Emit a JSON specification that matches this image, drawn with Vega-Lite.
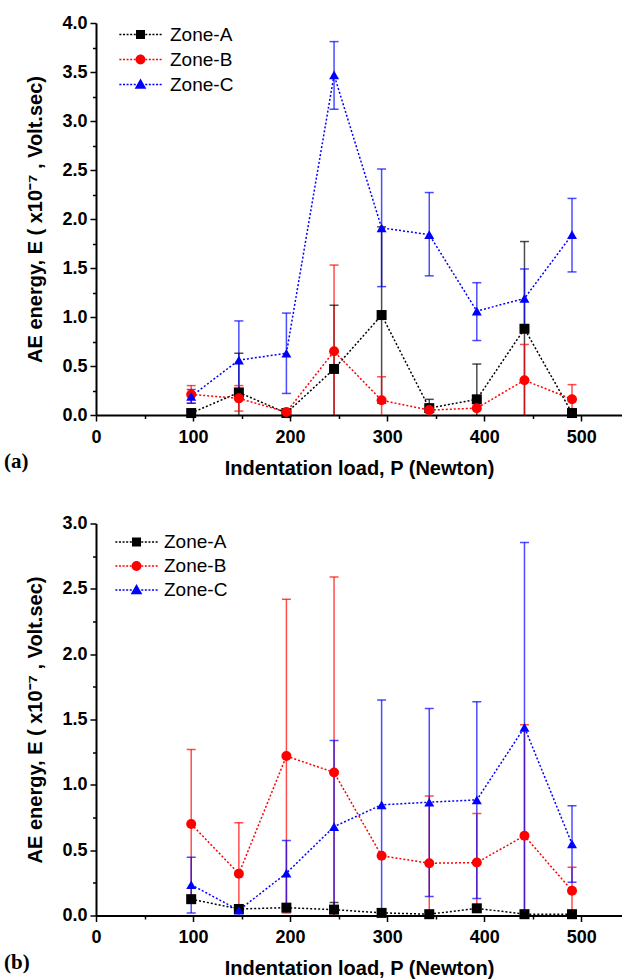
{
  "$schema": "https://vega.github.io/schema/vega-lite/v6.json",
  "padding": {"left": 3, "top": 14, "right": 0, "bottom": 0},
  "spacing": 36.5,
  "config": {
    "view": {"stroke": null},
    "font": "Liberation Sans",
    "axis": {"domainColor": "black", "domainWidth": 2, "tickColor": "black", "tickWidth": 1.5, "labelFont": "Liberation Sans", "labelFontWeight": "bold", "labelFontSize": 18, "labelColor": "black", "titleFont": "Liberation Sans", "titleFontWeight": "bold", "titleFontSize": 20, "titleColor": "black", "grid": false, "labelOverlap": false, "labelFlush": false}
  },
  "datasets": {
    "pts": [
      {"panel": "a", "zone": "Zone-A", "load": 98.1, "E": 0.02},
      {"panel": "a", "zone": "Zone-A", "load": 147.2, "E": 0.23, "lo": -0.17, "hi": 0.63},
      {"panel": "a", "zone": "Zone-A", "load": 196.2, "E": 0.02},
      {"panel": "a", "zone": "Zone-A", "load": 245.3, "E": 0.47, "lo": -0.18, "hi": 1.12},
      {"panel": "a", "zone": "Zone-A", "load": 294.3, "E": 1.02, "lo": 0.12, "hi": 1.92},
      {"panel": "a", "zone": "Zone-A", "load": 343.4, "E": 0.07, "lo": -0.02, "hi": 0.16},
      {"panel": "a", "zone": "Zone-A", "load": 392.4, "E": 0.16, "lo": -0.2, "hi": 0.52},
      {"panel": "a", "zone": "Zone-A", "load": 441.5, "E": 0.88, "lo": -0.01, "hi": 1.77},
      {"panel": "a", "zone": "Zone-A", "load": 490.5, "E": 0.02},
      {"panel": "a", "zone": "Zone-B", "load": 98.1, "E": 0.21, "lo": 0.12, "hi": 0.3},
      {"panel": "a", "zone": "Zone-B", "load": 147.2, "E": 0.17, "lo": 0.04, "hi": 0.3},
      {"panel": "a", "zone": "Zone-B", "load": 196.2, "E": 0.03},
      {"panel": "a", "zone": "Zone-B", "load": 245.3, "E": 0.65, "lo": -0.23, "hi": 1.53},
      {"panel": "a", "zone": "Zone-B", "load": 294.3, "E": 0.15, "lo": -0.09, "hi": 0.39},
      {"panel": "a", "zone": "Zone-B", "load": 343.4, "E": 0.05},
      {"panel": "a", "zone": "Zone-B", "load": 392.4, "E": 0.07},
      {"panel": "a", "zone": "Zone-B", "load": 441.5, "E": 0.355, "lo": -0.01, "hi": 0.72},
      {"panel": "a", "zone": "Zone-B", "load": 490.5, "E": 0.16, "lo": 0.01, "hi": 0.31},
      {"panel": "a", "zone": "Zone-C", "load": 98.1, "E": 0.19, "lo": 0.12, "hi": 0.26},
      {"panel": "a", "zone": "Zone-C", "load": 147.2, "E": 0.56, "lo": 0.16, "hi": 0.96},
      {"panel": "a", "zone": "Zone-C", "load": 196.2, "E": 0.63, "lo": 0.22, "hi": 1.04},
      {"panel": "a", "zone": "Zone-C", "load": 245.3, "E": 3.47, "lo": 3.12, "hi": 3.81},
      {"panel": "a", "zone": "Zone-C", "load": 294.3, "E": 1.91, "lo": 1.31, "hi": 2.51},
      {"panel": "a", "zone": "Zone-C", "load": 343.4, "E": 1.84, "lo": 1.42, "hi": 2.27},
      {"panel": "a", "zone": "Zone-C", "load": 392.4, "E": 1.06, "lo": 0.76, "hi": 1.35},
      {"panel": "a", "zone": "Zone-C", "load": 441.5, "E": 1.19, "lo": 0.89, "hi": 1.49},
      {"panel": "a", "zone": "Zone-C", "load": 490.5, "E": 1.84, "lo": 1.46, "hi": 2.21},
      {"panel": "b", "zone": "Zone-A", "load": 98.1, "E": 0.125, "lo": 0.1, "hi": 0.15},
      {"panel": "b", "zone": "Zone-A", "load": 147.2, "E": 0.05},
      {"panel": "b", "zone": "Zone-A", "load": 196.2, "E": 0.06},
      {"panel": "b", "zone": "Zone-A", "load": 245.3, "E": 0.045, "lo": -0.02, "hi": 0.1},
      {"panel": "b", "zone": "Zone-A", "load": 294.3, "E": 0.02},
      {"panel": "b", "zone": "Zone-A", "load": 343.4, "E": 0.01},
      {"panel": "b", "zone": "Zone-A", "load": 392.4, "E": 0.055},
      {"panel": "b", "zone": "Zone-A", "load": 441.5, "E": 0.01},
      {"panel": "b", "zone": "Zone-A", "load": 490.5, "E": 0.01},
      {"panel": "b", "zone": "Zone-B", "load": 98.1, "E": 0.7, "lo": 0.13, "hi": 1.27},
      {"panel": "b", "zone": "Zone-B", "load": 147.2, "E": 0.32, "lo": -0.08, "hi": 0.71},
      {"panel": "b", "zone": "Zone-B", "load": 196.2, "E": 1.22, "lo": 0.02, "hi": 2.42},
      {"panel": "b", "zone": "Zone-B", "load": 245.3, "E": 1.095, "lo": -0.4, "hi": 2.59},
      {"panel": "b", "zone": "Zone-B", "load": 294.3, "E": 0.457},
      {"panel": "b", "zone": "Zone-B", "load": 343.4, "E": 0.4, "lo": -0.12, "hi": 0.915},
      {"panel": "b", "zone": "Zone-B", "load": 392.4, "E": 0.405, "lo": 0.03, "hi": 0.78},
      {"panel": "b", "zone": "Zone-B", "load": 441.5, "E": 0.61, "lo": -0.24, "hi": 1.46},
      {"panel": "b", "zone": "Zone-B", "load": 490.5, "E": 0.19, "lo": 0.01, "hi": 0.37},
      {"panel": "b", "zone": "Zone-C", "load": 98.1, "E": 0.235, "lo": 0.02, "hi": 0.445},
      {"panel": "b", "zone": "Zone-C", "load": 147.2, "E": 0.04},
      {"panel": "b", "zone": "Zone-C", "load": 196.2, "E": 0.324, "lo": 0.07, "hi": 0.574},
      {"panel": "b", "zone": "Zone-C", "load": 245.3, "E": 0.68, "lo": 0.02, "hi": 1.34},
      {"panel": "b", "zone": "Zone-C", "load": 294.3, "E": 0.847, "lo": 0.05, "hi": 1.65},
      {"panel": "b", "zone": "Zone-C", "load": 343.4, "E": 0.867, "lo": 0.145, "hi": 1.585},
      {"panel": "b", "zone": "Zone-C", "load": 392.4, "E": 0.885, "lo": 0.13, "hi": 1.635},
      {"panel": "b", "zone": "Zone-C", "load": 441.5, "E": 1.44, "lo": 0.02, "hi": 2.855},
      {"panel": "b", "zone": "Zone-C", "load": 490.5, "E": 0.548, "lo": 0.255, "hi": 0.84}
    ]
  },
  "resolve": {"scale": {"x": "independent", "y": "independent", "color": "independent", "stroke": "independent", "fill": "independent", "shape": "independent"}, "legend": {"color": "independent"}},
  "vconcat": [
    {
      "width": 526, "height": 392,
      "data": {"name": "pts"},
      "transform": [{"filter": "datum.panel === 'a'"}],
      "title": {"text": "(a)", "orient": "bottom", "anchor": "start", "frame": "bounds", "font": "Liberation Serif", "fontSize": 21, "fontWeight": "bold", "color": "black", "offset": 0, "dx": -22, "dy": -27},
      "encoding": {
        "x": {"field": "load", "type": "quantitative", "scale": {"domain": [0, 542], "nice": false}, "axis": {"title": "Indentation load, P (Newton)", "values": [0, 50, 100, 150, 200, 250, 300, 350, 400, 450, 500], "labelExpr": "datum.value % 100 === 0 ? datum.label : ''", "tickSize": {"condition": {"test": "datum.value % 100 === 0", "value": 6}, "value": 3.5}, "labelPadding": 7, "titlePadding": 12}}
      },
      "layer": [
        {
          "transform": [{"filter": "isValid(datum.lo)"}],
          "mark": {"type": "rule", "strokeWidth": 1.5, "opacity": 0.7, "clip": true},
          "encoding": {
            "y": {"field": "lo", "type": "quantitative", "scale": {"domain": [0, 4], "nice": false}, "axis": {"title": "AE energy, E ( x10⁻⁷ , Volt.sec)", "values": [0, 0.25, 0.5, 0.75, 1, 1.25, 1.5, 1.75, 2, 2.25, 2.5, 2.75, 3, 3.25, 3.5, 3.75, 4], "labelExpr": "datum.value % 0.5 === 0 ? format(datum.value, '.1f') : ''", "tickSize": {"condition": {"test": "datum.value % 0.5 === 0", "value": 6}, "value": 3.5}, "labelPadding": 3, "titlePadding": 16}},
            "y2": {"field": "hi"},
            "stroke": {"field": "zone", "type": "nominal", "scale": {"range": ["#000000", "#ff0000", "#0000ff"]}, "legend": null}
          }
        },
        {
          "transform": [{"filter": "isValid(datum.lo)"}],
          "mark": {"type": "tick", "orient": "horizontal", "size": 9, "thickness": 1.5, "opacity": 0.7, "clip": true},
          "encoding": {
            "y": {"field": "hi", "type": "quantitative", "scale": {"domain": [0, 4], "nice": false}, "axis": {"title": "AE energy, E ( x10⁻⁷ , Volt.sec)", "values": [0, 0.25, 0.5, 0.75, 1, 1.25, 1.5, 1.75, 2, 2.25, 2.5, 2.75, 3, 3.25, 3.5, 3.75, 4], "labelExpr": "datum.value % 0.5 === 0 ? format(datum.value, '.1f') : ''", "tickSize": {"condition": {"test": "datum.value % 0.5 === 0", "value": 6}, "value": 3.5}, "labelPadding": 3, "titlePadding": 16}},
            "fill": {"field": "zone", "type": "nominal", "scale": {"range": ["#000000", "#ff0000", "#0000ff"]}, "legend": null}
          }
        },
        {
          "transform": [{"filter": "isValid(datum.lo)"}],
          "mark": {"type": "tick", "orient": "horizontal", "size": 9, "thickness": 1.5, "opacity": 0.7, "clip": true},
          "encoding": {
            "y": {"field": "lo", "type": "quantitative", "scale": {"domain": [0, 4], "nice": false}, "axis": {"title": "AE energy, E ( x10⁻⁷ , Volt.sec)", "values": [0, 0.25, 0.5, 0.75, 1, 1.25, 1.5, 1.75, 2, 2.25, 2.5, 2.75, 3, 3.25, 3.5, 3.75, 4], "labelExpr": "datum.value % 0.5 === 0 ? format(datum.value, '.1f') : ''", "tickSize": {"condition": {"test": "datum.value % 0.5 === 0", "value": 6}, "value": 3.5}, "labelPadding": 3, "titlePadding": 16}},
            "fill": {"field": "zone", "type": "nominal", "scale": {"range": ["#000000", "#ff0000", "#0000ff"]}, "legend": null}
          }
        },
        {
          "mark": {"type": "line", "strokeDash": [2, 2], "strokeWidth": 1.5},
          "encoding": {
            "y": {"field": "E", "type": "quantitative", "scale": {"domain": [0, 4], "nice": false}, "axis": {"title": "AE energy, E ( x10⁻⁷ , Volt.sec)", "values": [0, 0.25, 0.5, 0.75, 1, 1.25, 1.5, 1.75, 2, 2.25, 2.5, 2.75, 3, 3.25, 3.5, 3.75, 4], "labelExpr": "datum.value % 0.5 === 0 ? format(datum.value, '.1f') : ''", "tickSize": {"condition": {"test": "datum.value % 0.5 === 0", "value": 6}, "value": 3.5}, "labelPadding": 3, "titlePadding": 16}},
            "stroke": {"field": "zone", "type": "nominal", "scale": {"range": ["#000000", "#ff0000", "#0000ff"]}, "legend": null},
            "order": {"field": "load", "type": "quantitative"}
          }
        },
        {
          "mark": {"type": "point", "filled": true, "opacity": 1, "size": 100},
          "encoding": {
            "y": {"field": "E", "type": "quantitative", "scale": {"domain": [0, 4], "nice": false}, "axis": {"title": "AE energy, E ( x10⁻⁷ , Volt.sec)", "values": [0, 0.25, 0.5, 0.75, 1, 1.25, 1.5, 1.75, 2, 2.25, 2.5, 2.75, 3, 3.25, 3.5, 3.75, 4], "labelExpr": "datum.value % 0.5 === 0 ? format(datum.value, '.1f') : ''", "tickSize": {"condition": {"test": "datum.value % 0.5 === 0", "value": 6}, "value": 3.5}, "labelPadding": 3, "titlePadding": 16}},
            "color": {"field": "zone", "type": "nominal", "scale": {"domain": ["Zone-A", "Zone-B", "Zone-C"], "range": ["#000000", "#ff0000", "#0000ff"]},
              "legend": {"orient": "none", "legendX": 35, "legendY": 2, "title": null, "labelFont": "Liberation Sans", "labelFontSize": 19, "labelFontWeight": "normal", "labelColor": "black", "symbolSize": 81, "symbolStrokeWidth": 0, "labelOffset": 20, "rowPadding": 5,
                "symbolType": {"expr": "datum.value === 'Zone-A' ? 'M -4.7 -0.15 h 0.45 v 0.3 h -0.45 z M -3.9 -0.15 h 0.45 v 0.3 h -0.45 z M -3.1 -0.15 h 0.45 v 0.3 h -0.45 z M -2.3 -0.15 h 0.45 v 0.3 h -0.45 z M -1.5 -0.15 h 0.45 v 0.3 h -0.45 z M 1.05 -0.15 h 0.45 v 0.3 h -0.45 z M 1.85 -0.15 h 0.45 v 0.3 h -0.45 z M 2.65 -0.15 h 0.45 v 0.3 h -0.45 z M 3.45 -0.15 h 0.45 v 0.3 h -0.45 z M 4.25 -0.15 h 0.45 v 0.3 h -0.45 z M -1 -1 h 2 v 2 h -2 z' : datum.value === 'Zone-B' ? 'M -4.7 -0.15 h 0.45 v 0.3 h -0.45 z M -3.9 -0.15 h 0.45 v 0.3 h -0.45 z M -3.1 -0.15 h 0.45 v 0.3 h -0.45 z M -2.3 -0.15 h 0.45 v 0.3 h -0.45 z M -1.5 -0.15 h 0.45 v 0.3 h -0.45 z M 1.05 -0.15 h 0.45 v 0.3 h -0.45 z M 1.85 -0.15 h 0.45 v 0.3 h -0.45 z M 2.65 -0.15 h 0.45 v 0.3 h -0.45 z M 3.45 -0.15 h 0.45 v 0.3 h -0.45 z M 4.25 -0.15 h 0.45 v 0.3 h -0.45 z M -1.1 0 A 1.1 1.1 0 1 0 1.1 0 A 1.1 1.1 0 1 0 -1.1 0 z' : 'M -4.7 -0.15 h 0.45 v 0.3 h -0.45 z M -3.9 -0.15 h 0.45 v 0.3 h -0.45 z M -3.1 -0.15 h 0.45 v 0.3 h -0.45 z M -2.3 -0.15 h 0.45 v 0.3 h -0.45 z M -1.5 -0.15 h 0.45 v 0.3 h -0.45 z M 1.05 -0.15 h 0.45 v 0.3 h -0.45 z M 1.85 -0.15 h 0.45 v 0.3 h -0.45 z M 2.65 -0.15 h 0.45 v 0.3 h -0.45 z M 3.45 -0.15 h 0.45 v 0.3 h -0.45 z M 4.25 -0.15 h 0.45 v 0.3 h -0.45 z M 0 -1.35 L 1.3 0.95 L -1.3 0.95 z'"}}},
            "shape": {"field": "zone", "type": "nominal", "scale": {"range": ["square", "circle", "triangle-up"]}, "legend": null}
          }
        }
      ]
    },
    {
      "width": 526, "height": 392,
      "data": {"name": "pts"},
      "transform": [{"filter": "datum.panel === 'b'"}],
      "title": {"text": "(b)", "orient": "bottom", "anchor": "start", "frame": "bounds", "font": "Liberation Serif", "fontSize": 21, "fontWeight": "bold", "color": "black", "offset": 0, "dx": -22, "dy": -27},
      "encoding": {
        "x": {"field": "load", "type": "quantitative", "scale": {"domain": [0, 542], "nice": false}, "axis": {"title": "Indentation load, P (Newton)", "values": [0, 50, 100, 150, 200, 250, 300, 350, 400, 450, 500], "labelExpr": "datum.value % 100 === 0 ? datum.label : ''", "tickSize": {"condition": {"test": "datum.value % 100 === 0", "value": 6}, "value": 3.5}, "labelPadding": 7, "titlePadding": 12}}
      },
      "layer": [
        {
          "transform": [{"filter": "isValid(datum.lo)"}],
          "mark": {"type": "rule", "strokeWidth": 1.5, "opacity": 0.7, "clip": true},
          "encoding": {
            "y": {"field": "lo", "type": "quantitative", "scale": {"domain": [0, 3], "nice": false}, "axis": {"title": "AE energy, E ( x10⁻⁷ , Volt.sec)", "values": [0, 0.25, 0.5, 0.75, 1, 1.25, 1.5, 1.75, 2, 2.25, 2.5, 2.75, 3], "labelExpr": "datum.value % 0.5 === 0 ? format(datum.value, '.1f') : ''", "tickSize": {"condition": {"test": "datum.value % 0.5 === 0", "value": 6}, "value": 3.5}, "labelPadding": 3, "titlePadding": 16}},
            "y2": {"field": "hi"},
            "stroke": {"field": "zone", "type": "nominal", "scale": {"range": ["#000000", "#ff0000", "#0000ff"]}, "legend": null}
          }
        },
        {
          "transform": [{"filter": "isValid(datum.lo)"}],
          "mark": {"type": "tick", "orient": "horizontal", "size": 9, "thickness": 1.5, "opacity": 0.7, "clip": true},
          "encoding": {
            "y": {"field": "hi", "type": "quantitative", "scale": {"domain": [0, 3], "nice": false}, "axis": {"title": "AE energy, E ( x10⁻⁷ , Volt.sec)", "values": [0, 0.25, 0.5, 0.75, 1, 1.25, 1.5, 1.75, 2, 2.25, 2.5, 2.75, 3], "labelExpr": "datum.value % 0.5 === 0 ? format(datum.value, '.1f') : ''", "tickSize": {"condition": {"test": "datum.value % 0.5 === 0", "value": 6}, "value": 3.5}, "labelPadding": 3, "titlePadding": 16}},
            "fill": {"field": "zone", "type": "nominal", "scale": {"range": ["#000000", "#ff0000", "#0000ff"]}, "legend": null}
          }
        },
        {
          "transform": [{"filter": "isValid(datum.lo)"}],
          "mark": {"type": "tick", "orient": "horizontal", "size": 9, "thickness": 1.5, "opacity": 0.7, "clip": true},
          "encoding": {
            "y": {"field": "lo", "type": "quantitative", "scale": {"domain": [0, 3], "nice": false}, "axis": {"title": "AE energy, E ( x10⁻⁷ , Volt.sec)", "values": [0, 0.25, 0.5, 0.75, 1, 1.25, 1.5, 1.75, 2, 2.25, 2.5, 2.75, 3], "labelExpr": "datum.value % 0.5 === 0 ? format(datum.value, '.1f') : ''", "tickSize": {"condition": {"test": "datum.value % 0.5 === 0", "value": 6}, "value": 3.5}, "labelPadding": 3, "titlePadding": 16}},
            "fill": {"field": "zone", "type": "nominal", "scale": {"range": ["#000000", "#ff0000", "#0000ff"]}, "legend": null}
          }
        },
        {
          "mark": {"type": "line", "strokeDash": [2, 2], "strokeWidth": 1.5},
          "encoding": {
            "y": {"field": "E", "type": "quantitative", "scale": {"domain": [0, 3], "nice": false}, "axis": {"title": "AE energy, E ( x10⁻⁷ , Volt.sec)", "values": [0, 0.25, 0.5, 0.75, 1, 1.25, 1.5, 1.75, 2, 2.25, 2.5, 2.75, 3], "labelExpr": "datum.value % 0.5 === 0 ? format(datum.value, '.1f') : ''", "tickSize": {"condition": {"test": "datum.value % 0.5 === 0", "value": 6}, "value": 3.5}, "labelPadding": 3, "titlePadding": 16}},
            "stroke": {"field": "zone", "type": "nominal", "scale": {"range": ["#000000", "#ff0000", "#0000ff"]}, "legend": null},
            "order": {"field": "load", "type": "quantitative"}
          }
        },
        {
          "mark": {"type": "point", "filled": true, "opacity": 1, "size": 100},
          "encoding": {
            "y": {"field": "E", "type": "quantitative", "scale": {"domain": [0, 3], "nice": false}, "axis": {"title": "AE energy, E ( x10⁻⁷ , Volt.sec)", "values": [0, 0.25, 0.5, 0.75, 1, 1.25, 1.5, 1.75, 2, 2.25, 2.5, 2.75, 3], "labelExpr": "datum.value % 0.5 === 0 ? format(datum.value, '.1f') : ''", "tickSize": {"condition": {"test": "datum.value % 0.5 === 0", "value": 6}, "value": 3.5}, "labelPadding": 3, "titlePadding": 16}},
            "color": {"field": "zone", "type": "nominal", "scale": {"domain": ["Zone-A", "Zone-B", "Zone-C"], "range": ["#000000", "#ff0000", "#0000ff"]},
              "legend": {"orient": "none", "legendX": 31, "legendY": 9, "title": null, "labelFont": "Liberation Sans", "labelFontSize": 19, "labelFontWeight": "normal", "labelColor": "black", "symbolSize": 81, "symbolStrokeWidth": 0, "labelOffset": 18, "rowPadding": 4,
                "symbolType": {"expr": "datum.value === 'Zone-A' ? 'M -4.7 -0.15 h 0.45 v 0.3 h -0.45 z M -3.9 -0.15 h 0.45 v 0.3 h -0.45 z M -3.1 -0.15 h 0.45 v 0.3 h -0.45 z M -2.3 -0.15 h 0.45 v 0.3 h -0.45 z M -1.5 -0.15 h 0.45 v 0.3 h -0.45 z M 1.05 -0.15 h 0.45 v 0.3 h -0.45 z M 1.85 -0.15 h 0.45 v 0.3 h -0.45 z M 2.65 -0.15 h 0.45 v 0.3 h -0.45 z M 3.45 -0.15 h 0.45 v 0.3 h -0.45 z M 4.25 -0.15 h 0.45 v 0.3 h -0.45 z M -1 -1 h 2 v 2 h -2 z' : datum.value === 'Zone-B' ? 'M -4.7 -0.15 h 0.45 v 0.3 h -0.45 z M -3.9 -0.15 h 0.45 v 0.3 h -0.45 z M -3.1 -0.15 h 0.45 v 0.3 h -0.45 z M -2.3 -0.15 h 0.45 v 0.3 h -0.45 z M -1.5 -0.15 h 0.45 v 0.3 h -0.45 z M 1.05 -0.15 h 0.45 v 0.3 h -0.45 z M 1.85 -0.15 h 0.45 v 0.3 h -0.45 z M 2.65 -0.15 h 0.45 v 0.3 h -0.45 z M 3.45 -0.15 h 0.45 v 0.3 h -0.45 z M 4.25 -0.15 h 0.45 v 0.3 h -0.45 z M -1.1 0 A 1.1 1.1 0 1 0 1.1 0 A 1.1 1.1 0 1 0 -1.1 0 z' : 'M -4.7 -0.15 h 0.45 v 0.3 h -0.45 z M -3.9 -0.15 h 0.45 v 0.3 h -0.45 z M -3.1 -0.15 h 0.45 v 0.3 h -0.45 z M -2.3 -0.15 h 0.45 v 0.3 h -0.45 z M -1.5 -0.15 h 0.45 v 0.3 h -0.45 z M 1.05 -0.15 h 0.45 v 0.3 h -0.45 z M 1.85 -0.15 h 0.45 v 0.3 h -0.45 z M 2.65 -0.15 h 0.45 v 0.3 h -0.45 z M 3.45 -0.15 h 0.45 v 0.3 h -0.45 z M 4.25 -0.15 h 0.45 v 0.3 h -0.45 z M 0 -1.35 L 1.3 0.95 L -1.3 0.95 z'"}}},
            "shape": {"field": "zone", "type": "nominal", "scale": {"range": ["square", "circle", "triangle-up"]}, "legend": null}
          }
        }
      ]
    }
  ]
}
